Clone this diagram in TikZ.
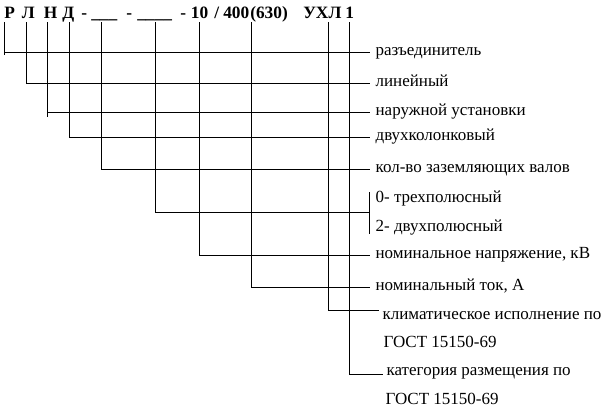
\documentclass[tikz,border=0pt]{standalone}
\usepackage{fontspec}
\setmainfont{Liberation Serif}
\usetikzlibrary{positioning}

\tikzset{
  code/.style={font=\bfseries\fontsize{13}{15}\selectfont, inner sep=0pt, anchor=base west},
  lab/.style={font=\fontsize{12.75}{15}\selectfont, inner ysep=0pt, inner xsep=4pt,
    text height=1ex, text depth=0pt, anchor=west},
  wire/.style={line width=0.75pt}
}

\begin{document}
\begin{tikzpicture}[x=0.75pt,y=-0.75pt]
    \useasboundingbox (0,0) rectangle (602,419);
    % code letters
    \foreach \n/\x/\t in {r/4/Р, l/21.7/Л, n/43.5/Н, d/62/Д, m/81/-, u/91/\_\_\_,
        mm/126/-, v/137/\_\_\_\_, k/180/-, ka/190.7/10, i/223/400, ia/250/(630),
        y/303/УХЛ, c/345/1}
      \node[code] (t\n) at (\x,18) {\t};
    \node[code] (tsl) at (214,18) {/};
    % column tops
    \foreach \n/\x in {r/4, l/26.7, n/47.7, d/69.3, u/101, v/155.3, k/199.3,
        i/251.5, y/328, c/349.5}
      \coordinate (c\n) at (\x,22);
    % labels
    \foreach \n/\y/\t in {1/52/разъединитель, 2/83/линейный, 3/112/наружной установки,
        4/137/двухколонковый, 5/169/кол-во заземляющих валов, 6a/199/0- трехполюсный,
        6b/228/2- двухполюсный, 7/255/{номинальное напряжение, кВ},
        8/287/{номинальный ток, А}}
      \node[lab] (l\n) at (370,\y) {\t};
    \node[lab] (l9)  at (377,316.5) {климатическое исполнение по};
    \node[lab] (l9b) at (378,344.5) {ГОСТ 15150-69};
    \node[lab] (l10) at (381,372)   {категория размещения по};
    \node[lab] (l10b) at (380,401.5) {ГОСТ 15150-69};
    % bracket
    \coordinate (brt) at (369,192);
    \coordinate (brb) at (369,234);
    \coordinate (br)  at (369,212);
    \coordinate (kl)  at (379,310);
    \coordinate (kc)  at (383,374);
    % connectors
    \draw[wire] (cr) |- (l1.west);
    \draw[wire] (cr |- l1.west) -- ++(0,3);
    \draw[wire] (cl) |- (l2.west);
    \draw[wire] (cn) |- (l3.west);
    \draw[wire] (cn |- l3.west) -- ++(0,5);
    \draw[wire] (cd) |- (l4.west);
    \draw[wire] (cu) |- (l5.west);
    \draw[wire] (brt) -- (brb);
    \draw[wire] (cv) |- (br);
    \draw[wire] (ck) |- (l7.west);
    \draw[wire] (ci) |- (l8.west);
    \draw[wire] (cy) |- (kl);
    \draw[wire] (cc) |- (kc);
\end{tikzpicture}
\end{document}
